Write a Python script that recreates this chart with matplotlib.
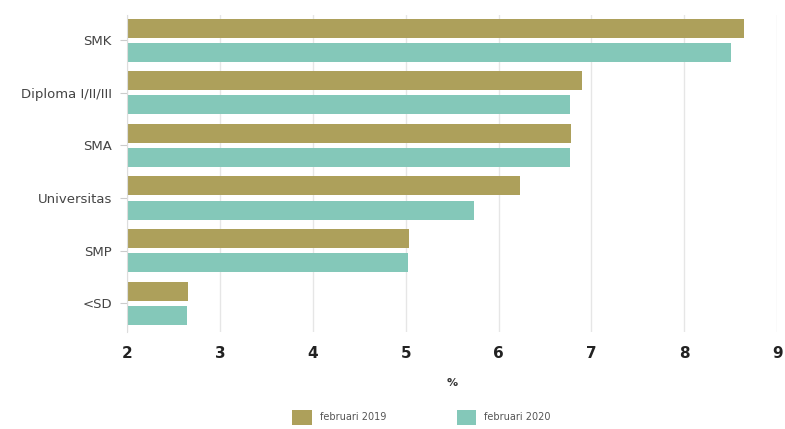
import matplotlib.pyplot as plt
import numpy as np

categories = ['SMK', 'Diploma I/II/III', 'SMA', 'Universitas', 'SMP', '<SD']
feb_2019 = [8.64, 6.90, 6.78, 6.23, 5.03, 2.65]
feb_2020 = [8.50, 6.77, 6.77, 5.73, 5.02, 2.64]
series_names = ['februari 2019', 'februari 2020']

c2019 = '#ada05b'
c2020 = '#84c8b9'

fig = plt.figure(figsize=(7.85, 4.29), dpi=100)
ax = fig.add_axes([0.162, 0.226, 0.828, 0.739])

y = np.arange(len(categories))
h = 0.36
off = 0.23
ax.barh(y - off, [v - 2 for v in feb_2019], left=2, height=h, color=c2019, label=series_names[0])
ax.barh(y + off, [v - 2 for v in feb_2020], left=2, height=h, color=c2020, label=series_names[1])

ax.set_xlim(2, 9)
ax.set_ylim(5.55, -0.48)
ax.set_xticks(range(2, 10))
ax.set_yticks(y)
ax.set_yticklabels(categories, fontsize=9.5, color='#444444')
ax.tick_params(axis='x', length=0, labelsize=11, labelcolor='#222222', pad=10)
ax.tick_params(axis='y', length=5, color='#cccccc', pad=6)
for lab in ax.get_xticklabels():
    lab.set_fontweight('bold')

ax.grid(axis='x', color='#e6e6e6', lw=1)
ax.set_axisbelow(True)
for s in ['top', 'right', 'bottom']:
    ax.spines[s].set_visible(False)
ax.spines['left'].set_color('#dddddd')

ax.set_xlabel('%', fontsize=8, fontweight='bold', color='#333333', labelpad=12)

fig.legend(loc='lower center', bbox_to_anchor=(0.537, -0.01), ncol=2, frameon=False,
           fontsize=7, handlelength=2.0, handleheight=1.9, columnspacing=7.3,
           labelcolor='#555555')

fig.savefig('out.png', dpi=100)
